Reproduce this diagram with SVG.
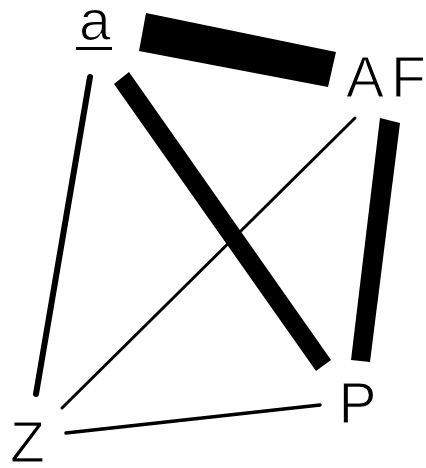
<svg xmlns="http://www.w3.org/2000/svg" width="426" height="468" viewBox="0 0 426 468">
<style>
.lbl{font-family:"Liberation Sans",Arial,sans-serif;font-size:57px;fill:#000;stroke:#fff;stroke-width:1.2px}
.thick{fill:#000}
.thin{stroke:#000;stroke-linecap:round;fill:none}
</style>
<rect width="426" height="468" fill="#fff"/>
<g id="edges">
<polygon class="thick" points="146,13 336,52 328,87 139,51"/>
<polygon class="thick" points="129,72 331,360 316,371 114,84"/>
<polygon class="thick" points="380,118 400,123 370,362 351,360"/>
<line class="thin" x1="90" y1="77" x2="36" y2="394" stroke-width="6"/>
<line class="thin" x1="355" y1="118" x2="62" y2="408" stroke-width="3"/>
<line class="thin" x1="66" y1="433" x2="320" y2="405" stroke-width="3.5"/>
</g>
<g id="node-a">
<text class="lbl" x="79" y="40">a</text>
<rect x="76" y="47" width="36" height="3" fill="#000"/>
</g>
<g id="node-AF">
<text class="lbl" x="346" y="97">A</text>
<text class="lbl" x="391" y="97">F</text>
</g>
<g id="node-P">
<text class="lbl" x="338.5" y="423">P</text>
</g>
<g id="node-Z">
<text class="lbl" x="10" y="462">Z</text>
</g>
</svg>
